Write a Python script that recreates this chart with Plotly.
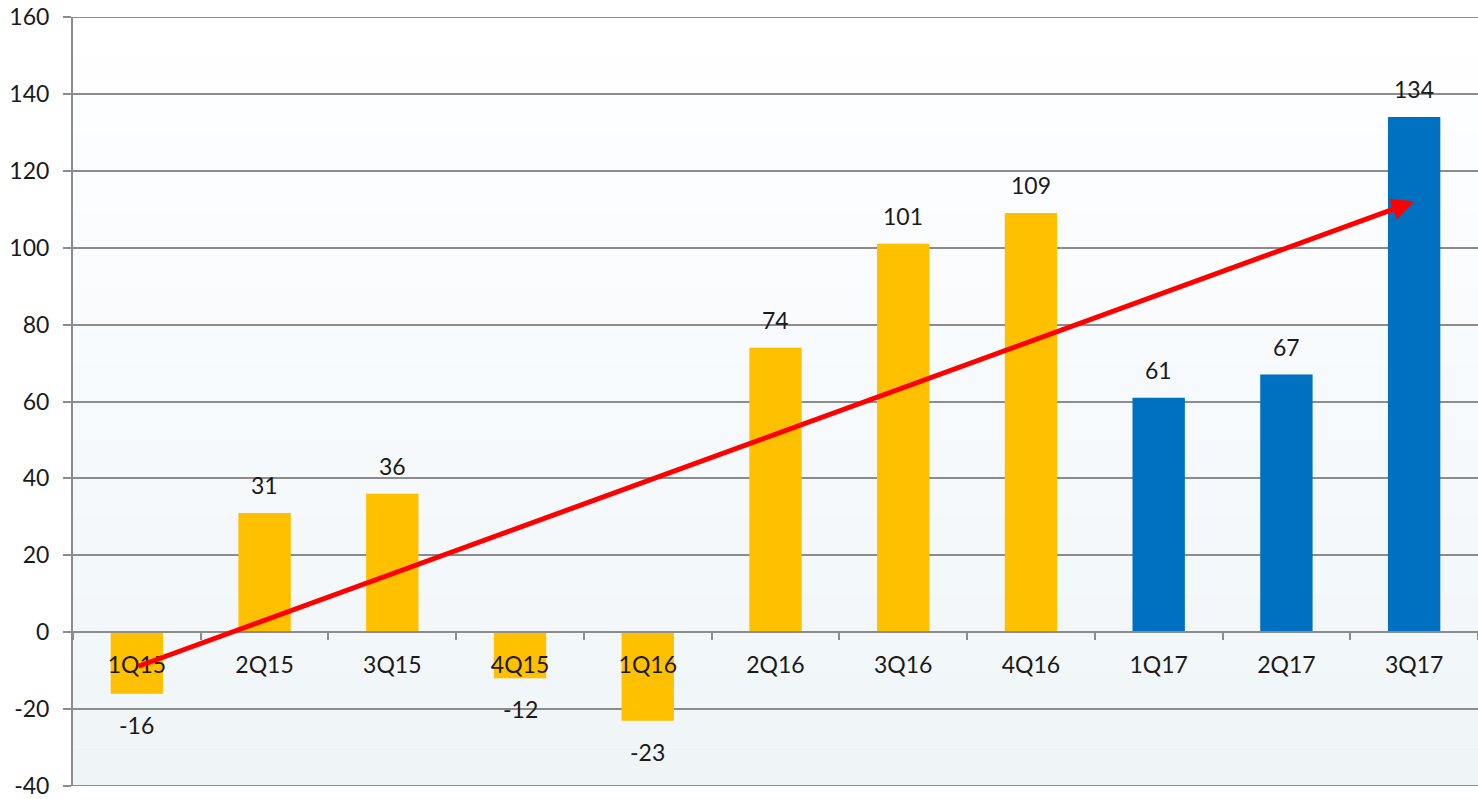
import plotly.graph_objects as go

quarters = ["1Q15", "2Q15", "3Q15", "4Q15", "1Q16", "2Q16", "3Q16", "4Q16", "1Q17", "2Q17", "3Q17"]
values = [-16, 31, 36, -12, -23, 74, 101, 109, 61, 67, 134]
bar_colors = ["#FFC000"] * 8 + ["#0070C0"] * 3
y_ticks = [-40, -20, 0, 20, 40, 60, 80, 100, 120, 140, 160]
y_range = [-40, 160]
trend_start = ("1Q15", -9)
trend_end = ("3Q17", 112)

FONT = "Lato, Open Sans, sans-serif"
TXT = "#1a1a1a"
FS = 23
GRID = "#8c8c8c"

fig = go.Figure()
fig.add_trace(go.Bar(x=quarters, y=values, marker=dict(color=bar_colors, line=dict(width=0)),
                     width=0.41, hoverinfo="x+y"))

annotations = []
for q, v in zip(quarters, values):
    annotations.append(dict(x=q, y=v, text=str(v), showarrow=False, xref="x", yref="y",
                            yshift=28 if v > 0 else -31, yanchor="middle",
                            font=dict(size=FS, color=TXT, family=FONT)))
annotations.append(dict(x=trend_end[0], y=trend_end[1], ax=trend_start[0], ay=trend_start[1],
                        xref="x", yref="y", axref="x", ayref="y", showarrow=True,
                        arrowhead=2, arrowsize=0.9, arrowwidth=5, arrowcolor="#FF0000", text=""))

shapes = []
steps = 20
for i in range(steps):
    t = i / steps
    c = int(255 - 16 * t)
    c2 = int(255 - 10 * t)
    shapes.append(dict(type="rect", xref="paper", yref="paper", x0=0, x1=1,
                       y0=1 - (i + 1) / steps, y1=1 - i / steps,
                       fillcolor=f"rgb({c},{c2},{min(255, c2 + 2)})", line=dict(width=0), layer="below"))
for yv in y_range:
    shapes.append(dict(type="line", xref="x domain", yref="y", x0=0, x1=1, y0=yv, y1=yv,
                       line=dict(color=GRID, width=2), layer="below"))

fig.update_layout(
    width=1478, height=799,
    margin=dict(l=73, r=0, t=17, b=13, autoexpand=False),
    paper_bgcolor="white", plot_bgcolor="rgba(0,0,0,0)",
    showlegend=False,
    font=dict(family=FONT, size=FS, color=TXT),
    annotations=annotations, shapes=shapes,
    xaxis=dict(anchor="free", position=0.2, showline=True, linecolor=GRID, linewidth=2,
               ticks="outside", tickson="boundaries", ticklen=7, tickcolor=GRID, tickwidth=2,
               ticklabelstandoff=12, showgrid=False, zeroline=False, automargin=False,
               tickfont=dict(size=FS, color=TXT, family=FONT), range=[-0.5, 10.5]),
    yaxis=dict(range=y_range, tickvals=y_ticks, ticktext=[str(v) for v in y_ticks],
               showline=True, linecolor=GRID, linewidth=2, automargin=False,
               ticks="outside", ticklen=8, tickcolor=GRID, tickwidth=2,
               gridcolor=GRID, gridwidth=2, zeroline=False, ticklabeloverflow="allow",
               tickfont=dict(size=FS, color=TXT, family=FONT), ticklabelstandoff=9),
)

fig.write_html("out.html", config={"displayModeBar": False},
               post_script="document.body.style.margin='0px';document.body.style.overflow='hidden';")
